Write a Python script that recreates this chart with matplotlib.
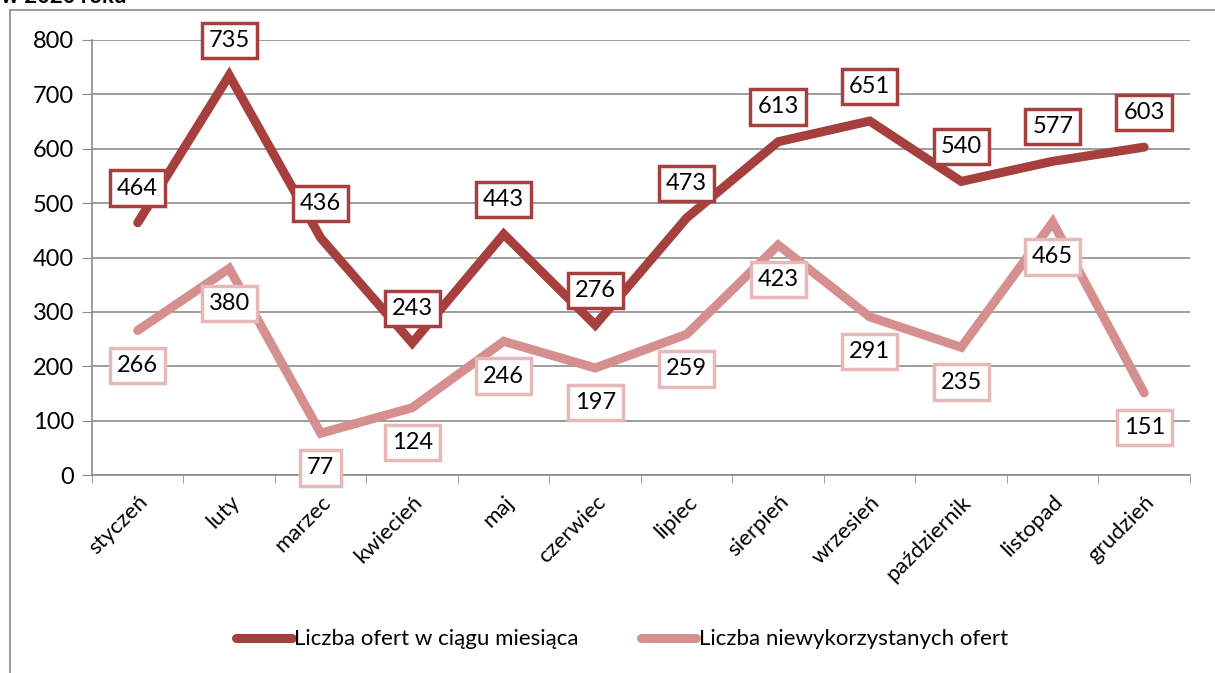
import matplotlib.pyplot as plt
from matplotlib.lines import Line2D

months = ['styczeń', 'luty', 'marzec', 'kwiecień', 'maj', 'czerwiec',
          'lipiec', 'sierpień', 'wrzesień', 'październik', 'listopad', 'grudzień']
oferty = [464, 735, 436, 243, 443, 276, 473, 613, 651, 540, 577, 603]
niewykorzystane = [266, 380, 77, 124, 246, 197, 259, 423, 291, 235, 465, 151]

dark = '#A5403E'
light = '#D48F8E'
light_edge = '#E6B9B8'

plt.rcParams['font.family'] = ['Lato', 'DejaVu Sans']

fig = plt.figure(figsize=(12.15, 6.73), dpi=100)
ax = fig.add_axes([0.0757, 0.294, 0.9037, 0.6466])

x = list(range(len(months)))
ax.plot(x, oferty, color=dark, lw=6.5, solid_capstyle='round', solid_joinstyle='miter',
        label='Liczba ofert w ciągu miesiąca', zorder=3)
ax.plot(x, niewykorzystane, color=light, lw=6.5, solid_capstyle='round', solid_joinstyle='miter',
        label='Liczba niewykorzystanych ofert', zorder=3)

for xi, v in zip(x, oferty):
    ax.annotate(str(v), (xi, v), xytext=(0, 25), textcoords='offset points',
                ha='center', va='center', fontsize=17, zorder=5,
                bbox=dict(boxstyle='square,pad=0.3', fc='white', ec=dark, lw=2.5))
for xi, v in zip(x, niewykorzystane):
    ax.annotate(str(v), (xi, v), xytext=(0, -25), textcoords='offset points',
                ha='center', va='center', fontsize=17, zorder=5,
                bbox=dict(boxstyle='square,pad=0.3', fc='white', ec=light_edge, lw=2.5))

ax.set_xlim(-0.5, 11.5)
ax.set_ylim(0, 800)
ax.set_yticks(range(0, 801, 100))
ax.yaxis.grid(True, color='#8c8c8c', lw=1.2)
ax.set_axisbelow(True)
ax.set_xticks(x)
ax.set_xticklabels(months, rotation=45, ha='right', rotation_mode='anchor', fontsize=16)
ax.set_xticks([i - 0.5 for i in range(13)], minor=True)
ax.tick_params(axis='x', which='major', length=0, pad=12)
ax.tick_params(axis='x', which='minor', length=6, color='#8c8c8c')
ax.tick_params(axis='y', length=7, color='#8c8c8c', labelsize=17, pad=6)
for s in ['top', 'right']:
    ax.spines[s].set_visible(False)
ax.spines['left'].set_color('#8c8c8c')
ax.spines['bottom'].set_color('#8c8c8c')
ax.spines['left'].set_linewidth(1.2)
ax.spines['bottom'].set_linewidth(1.2)

ax.legend(loc='center', bbox_to_anchor=(0.512, 0.05), bbox_transform=fig.transFigure,
          ncol=2, frameon=False, fontsize=16, handlelength=2.5, handletextpad=0.1,
          columnspacing=2.8)

# outer frame and clipped title
fig.add_artist(Line2D([10 / 1215, 10 / 1215], [0, 1 - 10 / 673], color='#8c8c8c', lw=1.2))
fig.add_artist(Line2D([10 / 1215, 1], [1 - 10 / 673, 1 - 10 / 673], color='#8c8c8c', lw=1.2))
fig.text(0.001, 0.9955, 'w 2020 roku', fontsize=16, fontweight='bold', va='baseline')

fig.savefig('out.png', dpi=100)
